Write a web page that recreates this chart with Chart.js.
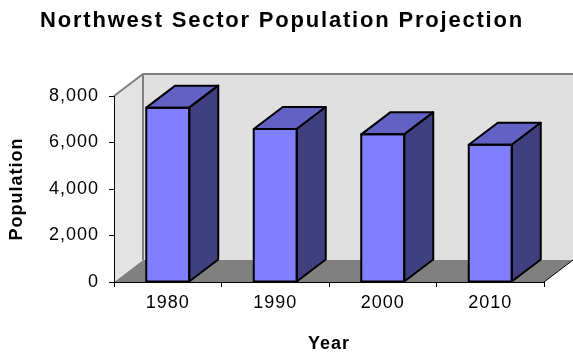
<!DOCTYPE html>
<html>
<head>
<meta charset="utf-8">
<script src="https://cdn.jsdelivr.net/npm/chart.js@4.4.1/dist/chart.umd.min.js"></script>
<style>
  html, body { margin: 0; padding: 0; background: #fff; }
  #wrap { width: 573px; height: 353px; }
</style>
</head>
<body>
<div id="wrap"><canvas id="popChart"></canvas></div>
<script>
// Chart data
const years = ["1980", "1990", "2000", "2010"];
const population = [7500, 6580, 6350, 5900];
const yTicks = [0, 2000, 4000, 6000, 8000];

// depth of the fake 3D effect
const DX = 29;
const DY = -22;

// walls and floor behind the bars, top and side faces on them
const walls3d = {
    id: 'walls3d',
    beforeDraw(chart) {
        const ctx = chart.ctx;
        const a = chart.chartArea;
        ctx.save();
        ctx.letterSpacing = '0px';
        // floor
        ctx.fillStyle = '#808080';
        ctx.beginPath();
        ctx.moveTo(a.left, a.bottom);
        ctx.lineTo(a.right, a.bottom);
        ctx.lineTo(a.right + DX, a.bottom + DY);
        ctx.lineTo(a.left + DX, a.bottom + DY);
        ctx.closePath();
        ctx.fill();
        // left wall
        ctx.fillStyle = '#E3E3E3';
        ctx.beginPath();
        ctx.moveTo(a.left, a.bottom);
        ctx.lineTo(a.left, a.top);
        ctx.lineTo(a.left + DX, a.top + DY);
        ctx.lineTo(a.left + DX, a.bottom + DY);
        ctx.closePath();
        ctx.fill();
        // back wall
        ctx.fillStyle = '#E0E0E0';
        ctx.fillRect(a.left + DX, a.top + DY, chart.width - a.left - DX, a.bottom - a.top);
        // wall edges
        ctx.strokeStyle = '#808080';
        ctx.lineWidth = 2;
        ctx.beginPath();
        ctx.moveTo(a.left, a.top);
        ctx.lineTo(a.left + DX, a.top + DY);
        ctx.lineTo(chart.width, a.top + DY);
        ctx.moveTo(a.left + DX, a.top + DY);
        ctx.lineTo(a.left + DX, a.bottom + DY);
        ctx.stroke();
        ctx.strokeStyle = '#000';
        ctx.lineWidth = 1;
        ctx.beginPath();
        ctx.moveTo(a.right, a.bottom);
        ctx.lineTo(a.right + DX, a.bottom + DY);
        ctx.stroke();
        ctx.restore();
        // the main title is spaced out in the original
        ctx.letterSpacing = '1.8px';
    },
    afterDatasetsDraw(chart) {
        const ctx = chart.ctx;
        ctx.save();
        ctx.letterSpacing = '0px';
        ctx.strokeStyle = '#000';
        ctx.lineWidth = 2;
        ctx.lineJoin = 'round';
        chart.getDatasetMeta(0).data.forEach(bar => {
            const l = bar.x - bar.width / 2;
            const r = bar.x + bar.width / 2;
            const t = bar.y;
            const b = bar.base;
            // top face
            ctx.fillStyle = '#6262C4';
            ctx.beginPath();
            ctx.moveTo(l, t);
            ctx.lineTo(l + DX, t + DY);
            ctx.lineTo(r + DX, t + DY);
            ctx.lineTo(r, t);
            ctx.closePath();
            ctx.fill();
            ctx.stroke();
            // side face
            ctx.fillStyle = '#404080';
            ctx.beginPath();
            ctx.moveTo(r, t);
            ctx.lineTo(r + DX, t + DY);
            ctx.lineTo(r + DX, b + DY);
            ctx.lineTo(r, b);
            ctx.closePath();
            ctx.fill();
            ctx.stroke();
            // front outline
            ctx.strokeRect(l, t, r - l, b - t);
        });
        ctx.restore();
        // axis parts (z: 1) are drawn after this
        ctx.letterSpacing = '1px';
    }
};

const axisFont = { family: 'Liberation Sans, Arial', size: 18 };
const axisTitleFont = { family: 'Liberation Sans, Arial', size: 18, weight: 'bold', lineHeight: 1 };

document.addEventListener("DOMContentLoaded", function() {
    const ctx = document.getElementById('popChart').getContext('2d');
    new Chart(ctx, {
        type: 'bar',
        data: {
            labels: years,
            datasets: [{
                label: 'Population',
                data: population,
                backgroundColor: '#8080FF',
                borderWidth: 0,
                barPercentage: 0.4,
                categoryPercentage: 1
            }]
        },
        options: {
            responsive: true,
            maintainAspectRatio: false,
            animation: false,
            layout: { padding: { left: 0, right: 9, top: 0, bottom: 0 } },
            plugins: {
                legend: { display: false },
                tooltip: { enabled: false },
                title: {
                    display: true,
                    text: 'Northwest Sector Population Projection',
                    color: '#000',
                    font: { family: 'Liberation Sans, Arial', size: 22, weight: 'bold', lineHeight: 1.2 },
                    padding: { top: 7.5, bottom: 62.1 }
                }
            },
            scales: {
                x: {
                    grid: { drawOnChartArea: false, offset: true, color: '#000', tickLength: 5, z: 1 },
                    border: { display: true, color: '#000', width: 1, z: 1 },
                    ticks: { color: '#000', padding: 5, font: axisFont, z: 1 },
                    title: {
                        display: true,
                        text: 'Year',
                        color: '#000',
                        font: axisTitleFont,
                        padding: { top: 0, bottom: 0 }
                    },
                    afterFit(scale) { scale.height = 71; }
                },
                y: {
                    min: 0,
                    max: 8000,
                    afterBuildTicks(scale) { scale.ticks = yTicks.map(v => ({ value: v })); },
                    grid: { drawOnChartArea: false, color: '#000', tickLength: 5, z: 1 },
                    border: { display: true, color: '#000', width: 1, z: 1 },
                    ticks: { color: '#000', padding: 10, font: axisFont, z: 1 },
                    title: {
                        display: true,
                        text: 'Population',
                        color: '#000',
                        font: axisTitleFont,
                        padding: { top: 8, bottom: 0 }
                    },
                    afterFit(scale) { scale.width = 114; }
                },
                // empty strip on the right where the 3D floor sticks out
                depth: {
                    type: 'linear',
                    position: 'right',
                    grid: { display: false },
                    border: { display: false },
                    ticks: { display: false },
                    afterFit(scale) { scale.width = 20; }
                }
            }
        },
        plugins: [walls3d]
    });
});
</script>
</body>
</html>
